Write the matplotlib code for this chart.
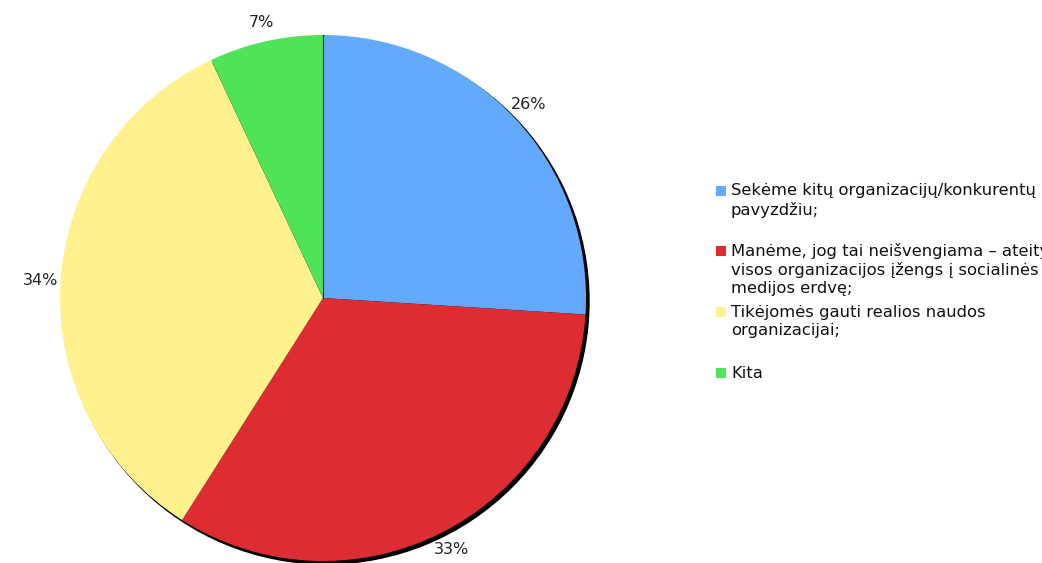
import numpy as np
import matplotlib.pyplot as plt
from matplotlib.patches import Circle, Rectangle

# survey answers, clockwise from 12 o'clock
labels = ["Sekėme kitų organizacijų/konkurentų\npavyzdžiu;",
          "Manėme, jog tai neišvengiama – ateityje\nvisos organizacijos įžengs į socialinės\nmedijos erdvę;",
          "Tikėjomės gauti realios naudos\norganizacijai;",
          "Kita"]
shares = [26, 33, 34, 7]
colors = ["#63aaff", "#dd2d33", "#fff28e", "#4fe357"]

W, H = 1042, 563
fig = plt.figure(figsize=(W / 100, H / 100), dpi=100)
ax = fig.add_axes([0, 0, 1, 1])

cx, cy, r = 323, H - 298, 263

# dark drop shadow behind the pie
ax.add_patch(Circle((cx + 3, cy - 3), r, color="black", zorder=0))

wedges, _ = ax.pie(shares, colors=colors, startangle=90, counterclock=False,
                   center=(cx, cy), radius=r, wedgeprops=dict(linewidth=0))
for w in wedges:
    w.set_zorder(1)

# percentage labels just outside each slice
ang = 90.0
for s in shares:
    mid = np.deg2rad(ang - s * 3.6 / 2)
    ax.text(cx + 1.075 * r * np.cos(mid), cy + 1.075 * r * np.sin(mid), f"{s}%",
            ha="center", va="center", fontsize=11.5, color="#222222")
    ang -= s * 3.6

# thin dark seam at the top where the first slice starts
ax.plot([cx, cx], [cy, cy + r], color="#222222", lw=0.8, zorder=2)

ax.set_xlim(0, W)
ax.set_ylim(0, H)
ax.set_aspect("equal")
ax.axis("off")

# legend drawn by hand so it runs off the right edge
first_line_y = [191, 251, 312, 373]
step = 18.5
for lab, col, y0 in zip(labels, colors, first_line_y):
    ax.add_patch(Rectangle((716, H - y0 - 5), 10, 10, color=col, lw=0))
    for i, line in enumerate(lab.split("\n")):
        ax.text(731, H - (y0 + i * step), line, ha="left", va="center",
                fontsize=11.8, color="#111111")

fig.savefig("out.png", dpi=100)
